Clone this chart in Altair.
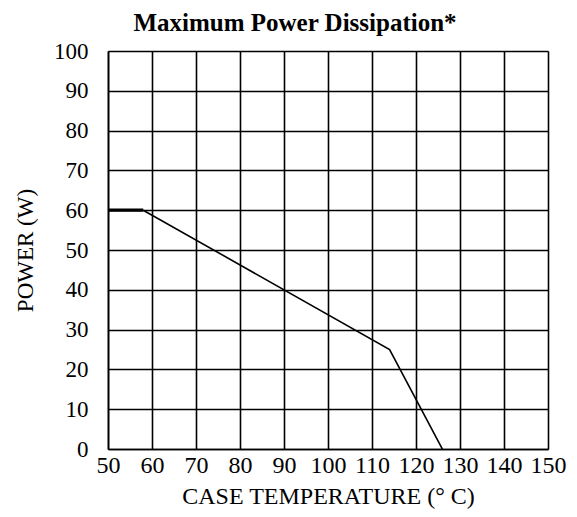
import altair as alt
import pandas as pd

# Curve (case temperature in deg C, power in W)
temp = [50, 58, 114, 126]
power = [60, 60, 25, 0]

x_ticks = [50, 60, 70, 80, 90, 100, 110, 120, 130, 140, 150]
y_ticks = [0, 10, 20, 30, 40, 50, 60, 70, 80, 90, 100]

df = pd.DataFrame({"temp": temp, "power": power})
flat = df.iloc[0:2]
slope = df.iloc[1:]

FONT = "Liberation Serif"

x_enc = alt.X(
    "temp:Q",
    scale=alt.Scale(domain=[50, 150], nice=False, zero=False),
    axis=alt.Axis(
        values=x_ticks, title="CASE TEMPERATURE (° C)", grid=True,
        gridColor="black", gridWidth=1.6, gridOpacity=1,
        domainColor="black", domainWidth=1.6, ticks=False,
        labelFont=FONT, labelFontSize=24, labelColor="black", labelPadding=4,
        titleFont=FONT, titleFontSize=24, titleFontWeight="normal",
        titleColor="black", titlePadding=7, labelFlush=False,
    ),
)
y_enc = alt.Y(
    "power:Q",
    scale=alt.Scale(domain=[0, 100], nice=False),
    axis=alt.Axis(
        values=y_ticks, title="POWER (W)", grid=True,
        gridColor="black", gridWidth=1.6, gridOpacity=1,
        domainColor="black", domainWidth=1.6, ticks=False,
        labelFont=FONT, labelFontSize=23, labelColor="black", labelPadding=20,
        titleFont=FONT, titleFontSize=23, titleFontWeight="normal",
        titleColor="black", titlePadding=16, labelFlush=False,
    ),
)

flat_line = alt.Chart(flat).mark_line(color="black", strokeWidth=3.2).encode(x=x_enc, y=y_enc)
slope_line = alt.Chart(slope).mark_line(color="black", strokeWidth=1.6).encode(x=x_enc, y=y_enc)

chart = (
    alt.layer(flat_line, slope_line)
    .properties(
        width=440,
        height=398,
        title=alt.TitleParams(
            "Maximum Power Dissipation*", font=FONT, fontSize=25,
            fontWeight="bold", color="black", anchor="middle", dx=-33, offset=4,
        ),
        autosize=alt.AutoSizeParams(type="none"),
        padding={"left": 100, "top": 43, "right": 21, "bottom": 60},
    )
    .configure_view(stroke="black", strokeWidth=1.6)
    .configure(background="white")
)

chart.save("out.html", embed_options={"renderer": "svg", "actions": False})
